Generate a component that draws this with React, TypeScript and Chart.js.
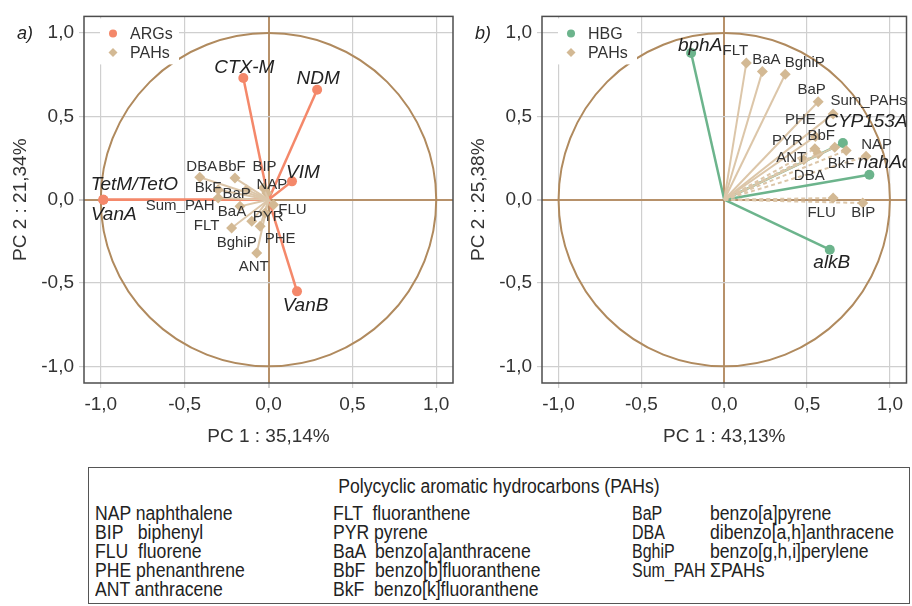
import React, { useEffect, useRef } from "react";
import { Chart, registerables } from "chart.js";

Chart.register(...registerables);

const FONT = '"Liberation Sans", Arial, Helvetica, sans-serif';

// ---------------- Panel a (ARGs + PAHs) ----------------
const argNames = ["CTX-M", "NDM", "VIM", "TetM/TetO", "VanA", "VanB"];
const argPC1 = [-0.15, 0.29, 0.14, -0.985, -0.985, 0.17];
const argPC2 = [0.73, 0.66, 0.11, 0.0, 0.0, -0.55];

const pahNamesA = ["DBA", "BbF", "BIP", "BkF", "BaP", "NAP", "Sum_PAH", "BaA", "FLU", "PYR", "FLT", "BghiP", "PHE", "ANT"];
const pahPC1A = [-0.41, -0.2, -0.03, -0.3, -0.13, -0.01, -0.3, -0.17, 0.03, -0.02, -0.22, -0.1, -0.05, -0.07];
const pahPC2A = [0.135, 0.13, 0.07, 0.06, 0.06, 0.04, 0.01, -0.04, -0.03, -0.08, -0.17, -0.13, -0.16, -0.32];

// ---------------- Panel b (HBG + PAHs) ----------------
const hbgNames = ["bphA", "CYP153A", "nahAc", "alkB"];
const hbgPC1 = [-0.2, 0.716, 0.876, 0.637];
const hbgPC2 = [0.88, 0.34, 0.15, -0.3];

const pahNamesB = ["FLT", "BaA", "BghiP", "BaP", "Sum_PAHs", "PHE", "PYR", "BbF", "ANT", "BkF", "NAP", "DBA", "FLU", "BIP"];
const pahPC1B = [0.133, 0.23, 0.368, 0.567, 0.657, 0.55, 0.547, 0.667, 0.567, 0.736, 0.856, 0.48, 0.657, 0.836];
const pahPC2B = [0.82, 0.77, 0.753, 0.588, 0.515, 0.38, 0.306, 0.315, 0.276, 0.296, 0.26, 0.24, 0.01, -0.02];

const tickValues = [-1, -0.5, 0, 0.5, 1];

// ---------------- Table below ----------------
const tableTitle = "Polycyclic aromatic hydrocarbons (PAHs)";
const tableCol1 = ["NAP naphthalene", "BIP   biphenyl", "FLU  fluorene", "PHE phenanthrene", "ANT anthracene"];
const tableCol2 = ["FLT  fluoranthene", "PYR pyrene", "BaA  benzo[a]anthracene", "BbF  benzo[b]fluoranthene", "BkF  benzo[k]fluoranthene"];
const tableCol3Abbr = ["BaP", "DBA", "BghiP", "Sum_PAH"];
const tableCol3Name = ["benzo[a]pyrene", "dibenzo[a,h]anthracene", "benzo[g,h,i]perylene", "ΣPAHs"];

// ---------------- Styling / layout config ----------------
const ARG_COLOR = "#f4886a";
const HBG_COLOR = "#6cb48c";
const PAH_LINE = "#dcc6a9";
const PAH_POINT = "#d3b994";
const AXIS_TAN = "#b7916a";
const CIRCLE = "#b08a5e";
const GRID = "#cfcfcf";
const FRAME = "#4d4d4d";

// label offsets (px) from each arrow tip
const labelOffA: Record<string, [number, number]> = {
  "CTX-M": [1, -10.5], NDM: [1, -11], VIM: [11, -8.5], "TetM/TetO": [31, -14.5], VanA: [10.5, 15.5], VanB: [8.5, 14],
  DBA: [2, -10], BbF: [-3, -11], BIP: [1, -21], BkF: [-10, -2], BaP: [-10, 4], NAP: [5, -8], Sum_PAH: [-38, 8],
  BaA: [-8, 5.5], FLU: [19, 5.5], PYR: [3, 4], FLT: [-25, -2], BghiP: [-15, 21], PHE: [20, 12], ANT: [-3, 14],
};
const labelOffB: Record<string, [number, number]> = {
  bphA: [9, -7], CYP153A: [23, -21], nahAc: [15, -11.5], alkB: [2, 13],
  FLT: [-11, -12], BaA: [4, -11.5], BghiP: [19.5, -11.7], BaP: [-6.5, -12], Sum_PAHs: [35.5, -13], PHE: [-15, -17],
  PYR: [-27.5, -7.5], BbF: [-13.5, -11], ANT: [-27, 4.5], BkF: [-5, 13.5], NAP: [10.5, -12], DBA: [5.5, 16.5],
  FLU: [-11.5, 15], BIP: [0.5, 10],
};
const dashedB = ["PYR", "ANT", "BkF", "NAP", "DBA", "FLU", "BIP"];

const fmt = (v: number) => v.toFixed(1).replace(".", ",");

const biplotPlugin = {
  id: "biplot",
  beforeDatasetsDraw(chart: any, _a: any, opts: any) {
    const { ctx, chartArea: ca, scales } = chart;
    const cx = scales.x.getPixelForValue(0);
    const cy = scales.y.getPixelForValue(0);
    const rx = scales.x.getPixelForValue(1) - cx;
    const ry = cy - scales.y.getPixelForValue(1);
    ctx.save();
    ctx.beginPath();
    ctx.rect(ca.left, ca.top, ca.right - ca.left, ca.bottom - ca.top);
    ctx.clip();
    ctx.beginPath();
    ctx.ellipse(cx, cy, rx, ry, 0, 0, Math.PI * 2);
    ctx.strokeStyle = CIRCLE;
    ctx.lineWidth = 2;
    ctx.stroke();
    ctx.restore();
  },
  afterDatasetsDraw(chart: any, _a: any, opts: any) {
    const { ctx, chartArea: ca, scales } = chart;
    ctx.save();
    ctx.beginPath();
    ctx.rect(ca.left, ca.top, ca.right - ca.left, ca.bottom - ca.top);
    ctx.clip();
    ctx.textAlign = "center";
    ctx.textBaseline = "middle";
    for (const l of opts.labels) {
      ctx.font = l.font;
      ctx.fillStyle = l.color;
      ctx.fillText(l.text, scales.x.getPixelForValue(l.x) + l.dx, scales.y.getPixelForValue(l.y) + l.dy);
    }
    // legend
    const lx = ca.left;
    const ly = ca.top;
    ctx.fillStyle = "#ffffff";
    ctx.fillRect(lx + 16, ly + 2, 79, 46);
    opts.legend.forEach((it: any, i: number) => {
      const yy = ly + 17 + i * 19;
      ctx.fillStyle = it.color;
      ctx.beginPath();
      if (it.style === "circle") {
        ctx.arc(lx + 29, yy, 4, 0, Math.PI * 2);
      } else {
        ctx.moveTo(lx + 29, yy - 4.5);
        ctx.lineTo(lx + 33.5, yy);
        ctx.lineTo(lx + 29, yy + 4.5);
        ctx.lineTo(lx + 24.5, yy);
        ctx.closePath();
      }
      ctx.fill();
      ctx.fillStyle = "#333";
      ctx.font = `16px ${FONT}`;
      ctx.textAlign = "left";
      ctx.fillText(it.text, lx + 46, yy + 1);
    });
    ctx.restore();
    // frame + tag
    ctx.save();
    ctx.strokeStyle = FRAME;
    ctx.lineWidth = 1.5;
    ctx.strokeRect(ca.left, ca.top, ca.right - ca.left, ca.bottom - ca.top);
    ctx.font = `italic 18px ${FONT}`;
    ctx.fillStyle = "#222";
    ctx.textAlign = "left";
    ctx.textBaseline = "middle";
    ctx.fillText(opts.tag, ca.left - 67, ca.top + 18);
    ctx.restore();
  },
};

function arrow(x: number, y: number, line: string, point: string, style: string, width: number, dashed: boolean, r: number) {
  return {
    data: [{ x: 0, y: 0 }, { x, y }],
    showLine: true,
    borderColor: line,
    borderWidth: width,
    borderDash: dashed ? [4, 3] : [],
    pointRadius: [0, r],
    pointHoverRadius: [0, r],
    pointStyle: style,
    pointBackgroundColor: point,
    pointBorderColor: point,
    pointBorderWidth: 0,
  };
}

function makeScale(axis: "x" | "y", title: string) {
  return {
    type: "linear",
    min: -1.1,
    max: 1.1,
    afterBuildTicks: (s: any) => {
      s.ticks = tickValues.map((v) => ({ value: v }));
    },
    afterFit: (s: any) => {
      if (axis === "x") s.height = 77;
      else s.width = 84;
    },
    grid: {
      color: (c: any) => (c.tick && c.tick.value === 0 ? AXIS_TAN : GRID),
      lineWidth: (c: any) => (c.tick && c.tick.value === 0 ? 2 : 1.2),
      tickColor: GRID,
      tickLength: 5,
      drawTicks: true,
    },
    border: { display: false },
    ticks: {
      font: { family: FONT, size: 19 },
      color: "#333",
      padding: 5,
      autoSkip: false,
      maxRotation: 0,
      callback: (v: any) => fmt(Number(v)),
    },
    title: {
      display: true,
      text: title,
      font: { family: FONT, size: 19 },
      color: "#333",
      padding: axis === "x" ? { top: 0, bottom: 12 } : { top: 9, bottom: 0 },
    },
  };
}

type Panel = {
  tag: string;
  xTitle: string;
  yTitle: string;
  padRight: number;
  geneNames: string[];
  geneX: number[];
  geneY: number[];
  geneColor: string;
  pahNames: string[];
  pahX: number[];
  pahY: number[];
  offsets: Record<string, [number, number]>;
  dashed: string[];
  legend: { text: string; color: string; style: string }[];
};

function buildConfig(p: Panel): any {
  const datasets: any[] = [];
  const labels: any[] = [];
  p.pahNames.forEach((n, i) => {
    datasets.push(arrow(p.pahX[i], p.pahY[i], PAH_LINE, PAH_POINT, "rectRot", 2, p.dashed.includes(n), 5.5));
    const o = p.offsets[n] || [0, -10];
    labels.push({ text: n, x: p.pahX[i], y: p.pahY[i], dx: o[0], dy: o[1], font: `15px ${FONT}`, color: "#333" });
  });
  p.geneNames.forEach((n, i) => {
    datasets.push(arrow(p.geneX[i], p.geneY[i], p.geneColor, p.geneColor, "circle", 2.5, false, 5));
    const o = p.offsets[n] || [0, -10];
    labels.push({ text: n, x: p.geneX[i], y: p.geneY[i], dx: o[0], dy: o[1], font: `italic 19px ${FONT}`, color: "#222" });
  });
  return {
    type: "scatter",
    data: { datasets },
    options: {
      responsive: false,
      maintainAspectRatio: false,
      animation: false,
      events: [],
      layout: { padding: { left: 0, top: 15, right: p.padRight, bottom: 0 } },
      plugins: {
        legend: { display: false },
        tooltip: { enabled: false },
        biplot: { labels, legend: p.legend, tag: p.tag },
      },
      scales: { x: makeScale("x", p.xTitle), y: makeScale("y", p.yTitle) },
    },
    plugins: [biplotPlugin],
  };
}

const panelA: Panel = {
  tag: "a)",
  xTitle: "PC 1 : 35,14%",
  yTitle: "PC 2 : 21,34%",
  padRight: 7,
  geneNames: argNames,
  geneX: argPC1,
  geneY: argPC2,
  geneColor: ARG_COLOR,
  pahNames: pahNamesA,
  pahX: pahPC1A,
  pahY: pahPC2A,
  offsets: labelOffA,
  dashed: [],
  legend: [
    { text: "ARGs", color: ARG_COLOR, style: "circle" },
    { text: "PAHs", color: PAH_POINT, style: "diamond" },
  ],
};

const panelB: Panel = {
  tag: "b)",
  xTitle: "PC 1 : 43,13%",
  yTitle: "PC 2 : 25,38%",
  padRight: 3,
  geneNames: hbgNames,
  geneX: hbgPC1,
  geneY: hbgPC2,
  geneColor: HBG_COLOR,
  pahNames: pahNamesB,
  pahX: pahPC1B,
  pahY: pahPC2B,
  offsets: labelOffB,
  dashed: dashedB,
  legend: [
    { text: "HBG", color: HBG_COLOR, style: "circle" },
    { text: "PAHs", color: PAH_POINT, style: "diamond" },
  ],
};

const rowY = [513, 532, 551, 570, 589];

const textStyle = (left: number, y: number, sx = 0.88): React.CSSProperties => ({
  position: "absolute",
  left,
  top: y - 10,
  fontSize: 20,
  lineHeight: "20px",
  fontFamily: FONT,
  whiteSpace: "pre",
  transform: `scaleX(${sx})`,
  transformOrigin: "0 50%",
  color: "#222",
});

export default function App() {
  const refA = useRef<HTMLCanvasElement>(null);
  const refB = useRef<HTMLCanvasElement>(null);
  useEffect(() => {
    const a = new Chart(refA.current as HTMLCanvasElement, buildConfig(panelA));
    const b = new Chart(refB.current as HTMLCanvasElement, buildConfig(panelB));
    return () => {
      a.destroy();
      b.destroy();
    };
  }, []);
  return (
    <div style={{ position: "fixed", left: 0, top: 0, width: 912, height: 606, background: "#fff", overflow: "hidden" }}>
      <canvas ref={refA} width={460} height={460} style={{ position: "absolute", left: 0, top: 0, width: 460, height: 460 }} />
      <canvas ref={refB} width={454} height={460} style={{ position: "absolute", left: 458, top: 0, width: 454, height: 460 }} />
      <div
        style={{
          position: "absolute",
          left: 88,
          top: 467,
          width: 822,
          height: 137,
          border: "1.5px solid #555",
          boxSizing: "border-box",
        }}
      />
      <div
        style={{
          position: "absolute",
          left: 88,
          top: 476,
          width: 822,
          textAlign: "center",
          fontSize: 20,
          lineHeight: "20px",
          fontFamily: FONT,
          transform: "scaleX(0.88)",
          transformOrigin: "50% 50%",
          color: "#222",
        }}
      >
        {tableTitle}
      </div>
      {tableCol1.map((t, i) => (
        <div key={"c1" + i} style={textStyle(95, rowY[i])}>{t}</div>
      ))}
      {tableCol2.map((t, i) => (
        <div key={"c2" + i} style={textStyle(333, rowY[i])}>{t}</div>
      ))}
      {tableCol3Abbr.map((t, i) => (
        <div key={"c3a" + i} style={textStyle(632, rowY[i], 0.8)}>{t}</div>
      ))}
      {tableCol3Name.map((t, i) => (
        <div key={"c3n" + i} style={textStyle(710, rowY[i])}>{t}</div>
      ))}
    </div>
  );
}
